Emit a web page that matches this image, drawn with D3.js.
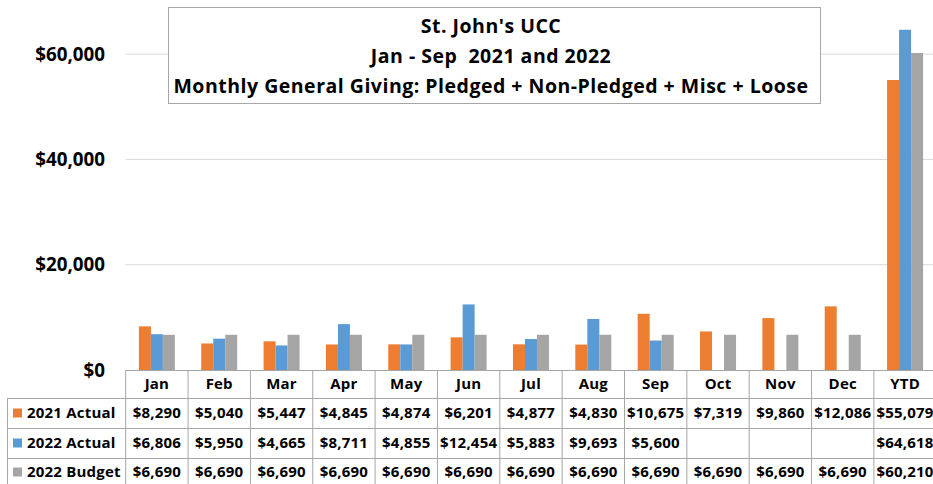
<!DOCTYPE html>
<html>
<head>
<meta charset="utf-8">
<script src="https://cdn.jsdelivr.net/npm/d3@7"></script>
<style>
  body { margin: 0; background: #fff; }
  text { font-family: "Open Sans", Lato, sans-serif; font-weight: bold; fill: #000; }
</style>
</head>
<body>
<script>
/* ---------------------------------- data ---------------------------------- */
const months = ["Jan", "Feb", "Mar", "Apr", "May", "Jun", "Jul", "Aug", "Sep", "Oct", "Nov", "Dec", "YTD"];
const seriesNames = ["2021 Actual", "2022 Actual", "2022 Budget"];
const actual2021 = [8290, 5040, 5447, 4845, 4874, 6201, 4877, 4830, 10675, 7319, 9860, 12086, 55079];
const actual2022 = [6806, 5950, 4665, 8711, 4855, 12454, 5883, 9693, 5600, null, null, null, 64618];
const budget2022 = [6690, 6690, 6690, 6690, 6690, 6690, 6690, 6690, 6690, 6690, 6690, 6690, 60210];
const yTicks = [0, 20000, 40000, 60000];
const titleLines = ["St. John's UCC", "Jan - Sep  2021 and 2022", "Monthly General Giving: Pledged + Non-Pledged + Misc + Loose"];

const colors = ["#ED7D31", "#5B9BD5", "#A5A5A5"];
const seriesValues = [actual2021, actual2022, budget2022];

/* ------------------------------ document size ----------------------------- */
const width = 933, height = 484;
const left = 125.7, colW = 62.35, zeroY = 370, rowH = [28, 30, 30, 28];
const gridColor = "#d9d9d9", borderColor = "#a6a6a6";

const svg = d3.select("body").append("svg")
    .attr("width", width)
    .attr("height", height);

/* --------------------------------- scales --------------------------------- */
const x = d3.scaleBand().domain(months).range([left, left + months.length * colW]);
const x1 = d3.scaleBand().domain(seriesNames).range([0, 36]);
const y = d3.scaleLinear().domain([0, 70000]).range([zeroY, zeroY - 70000 * 105.3 / 20000]);
const fmt = d3.format("$,");

/* ------------------------------- gridlines -------------------------------- */
svg.append("g").selectAll("line").data(yTicks.slice(1)).enter().append("line")
    .attr("x1", left).attr("x2", width)
    .attr("y1", d => y(d)).attr("y2", d => y(d))
    .attr("stroke", gridColor).attr("stroke-width", 1);

svg.append("g").selectAll("text").data(yTicks).enter().append("text")
    .attr("x", 105).attr("y", d => y(d))
    .attr("dy", "0.35em")
    .attr("text-anchor", "end")
    .style("font-size", "18.8px")
    .text(d => fmt(d));

/* ---------------------------------- bars ---------------------------------- */
const offset = (colW - 36) / 2;
seriesValues.forEach((vals, si) => {
    svg.append("g").selectAll("rect")
        .data(vals.map((v, i) => ({ m: months[i], v: v })).filter(d => d.v != null))
        .enter().append("rect")
        .attr("x", d => x(d.m) + offset + x1(seriesNames[si]))
        .attr("width", x1.bandwidth())
        .attr("y", d => y(d.v))
        .attr("height", d => zeroY - y(d.v))
        .attr("fill", colors[si]);
});

/* ---------------------------------- title --------------------------------- */
const tb = svg.append("g");
tb.append("rect")
    .attr("x", 168.5).attr("y", 7.5).attr("width", 652).attr("height", 96)
    .attr("fill", "#fff").attr("stroke", borderColor);
tb.selectAll("text").data(titleLines).enter().append("text")
    .attr("x", 491).attr("y", (d, i) => 26 + i * 30)
    .attr("dy", "0.35em")
    .attr("text-anchor", "middle")
    .style("font-size", "19.5px")
    .style("letter-spacing", "0.5px")
    .style("white-space", "pre")
    .text(d => d);

/* ---------------------------------- table --------------------------------- */
const rowTop = [zeroY];
rowH.forEach(h => rowTop.push(rowTop[rowTop.length - 1] + h));
const tableRight = left + months.length * colW;
const tg = svg.append("g").attr("stroke", borderColor).attr("stroke-width", 1).attr("fill", "none");

// horizontal lines
rowTop.forEach((yy, i) => {
    tg.append("line")
        .attr("x1", i === 0 ? left : 7).attr("x2", tableRight)
        .attr("y1", yy + 0.5).attr("y2", yy + 0.5);
});
// vertical lines
months.concat(["end"]).forEach((m, i) => {
    const xx = left + i * colW;
    tg.append("line").attr("x1", xx).attr("x2", xx)
        .attr("y1", zeroY).attr("y2", height);
});
tg.append("line").attr("x1", 7.5).attr("x2", 7.5).attr("y1", rowTop[1]).attr("y2", height);

svg.append("g").selectAll("text").data(months).enter().append("text")
    .attr("x", d => x(d) + colW / 2)
    .attr("y", zeroY + rowH[0] / 2)
    .attr("dy", "0.35em")
    .attr("text-anchor", "middle")
    .style("font-size", "15px")
    .style("letter-spacing", "0.2px")
    .text(d => d);

seriesValues.forEach((vals, si) => {
    const cy = rowTop[si + 1] + rowH[si + 1] / 2;
    const row = svg.append("g");
    row.append("rect")
        .attr("x", 13).attr("y", cy - 4.5).attr("width", 9).attr("height", 9)
        .attr("fill", colors[si]);
    row.append("text")
        .attr("x", 27).attr("y", cy).attr("dy", "0.35em")
        .style("font-size", "15px")
        .style("letter-spacing", "0.2px")
        .text(seriesNames[si]);
    row.selectAll("text.v").data(vals.map((v, i) => ({ m: months[i], v: v })).filter(d => d.v != null))
        .enter().append("text").attr("class", "v")
        .attr("x", d => x(d.m) + colW / 2)
        .attr("y", cy).attr("dy", "0.35em")
        .attr("text-anchor", "middle")
        .style("font-size", "15px")
        .style("letter-spacing", "0.2px")
        .text(d => fmt(d.v));
});
</script>
</body>
</html>
